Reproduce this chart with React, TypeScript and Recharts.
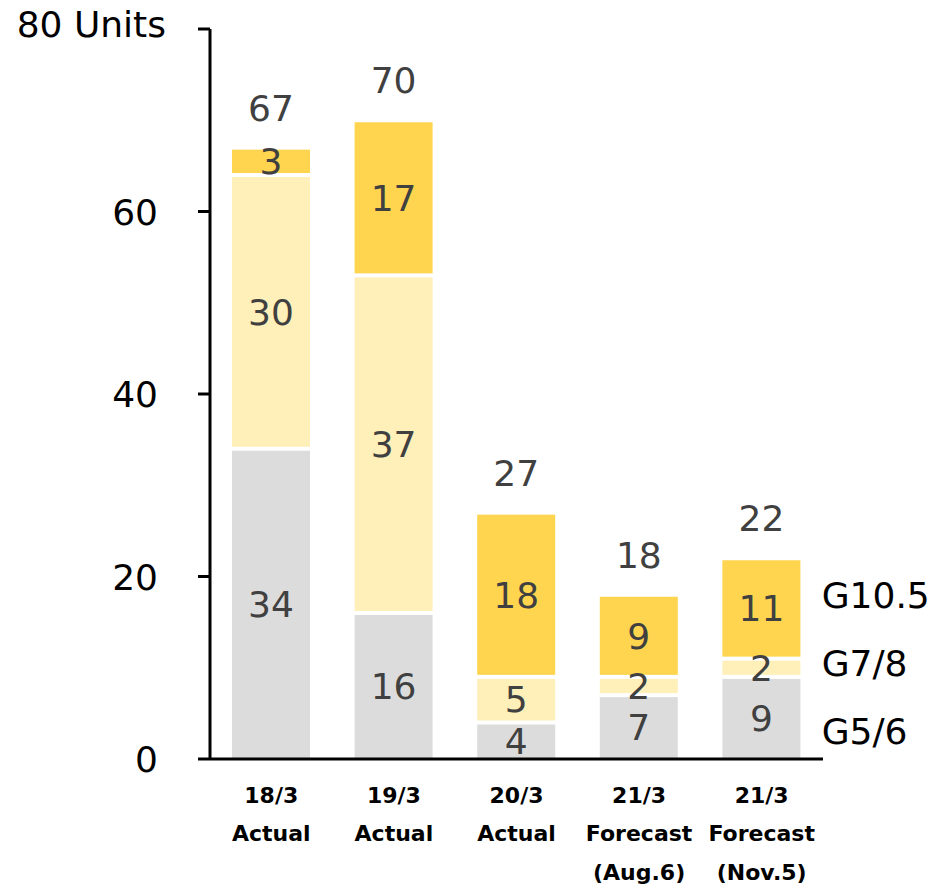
import React from 'react';
import { BarChart, Bar, XAxis, YAxis, LabelList, ReferenceDot } from 'recharts';

const categories = ['18/3 Actual', '19/3 Actual', '20/3 Actual', '21/3 Forecast (Aug.6)', '21/3 Forecast (Nov.5)'];
const categoryLines = [
  ['18/3', 'Actual'],
  ['19/3', 'Actual'],
  ['20/3', 'Actual'],
  ['21/3', 'Forecast', '(Aug.6)'],
  ['21/3', 'Forecast', '(Nov.5)'],
];
const g56 = [34, 16, 4, 7, 9];
const g78 = [30, 37, 5, 2, 2];
const g105 = [3, 17, 18, 9, 11];
const totals = [67, 70, 27, 18, 22];
const yTicks = [0, 20, 40, 60, 80];
const seriesNames = ['G5/6', 'G7/8', 'G10.5'];
const seriesLabelLevels = [3, 10.5, 18];

const data = categories.map((c, i) => ({ cat: c, g56: g56[i], g78: g78[i], g105: g105[i], total: totals[i] }));

const COLORS = { g56: '#DCDCDC', g78: '#FFEFB9', g105: '#FFD54F' };
const LABEL = '#404040';
const LINE_OFFSETS = [44, 82, 121];

const makeShape = (isBottom: boolean) => (props: any) => {
  const { x, y, width, height, fill } = props;
  if (width == null || height == null) return null;
  const top = y + 2;
  const bottom = isBottom ? y + height : y + height - 2;
  const h = Math.max(0, bottom - top);
  return <rect x={x} y={top} width={width} height={h} fill={fill} />;
};

const renderTotal = (props: any) => {
  const vb = props.viewBox || props;
  const x = vb.x ?? props.x;
  const y = vb.y ?? props.y;
  const w = vb.width ?? props.width;
  return (
    <text x={x + w / 2} y={y - 27} textAnchor="middle" fill={LABEL} fontSize={36}>
      {props.value}
    </text>
  );
};

const XTick = (props: any) => {
  const { x, y, payload } = props;
  const idx = categories.indexOf(payload.value);
  const lines = categoryLines[idx] || [String(payload.value)];
  return (
    <g>
      {lines.map((l, i) => (
        <text key={i} x={x} y={y + LINE_OFFSETS[i]} textAnchor="middle" fontWeight="bold" fontSize={22} fill="#000">
          {l}
        </text>
      ))}
    </g>
  );
};

const YTick = (props: any) => {
  const { x, y, payload } = props;
  if (payload.value === 80) {
    return (
      <text x={x + 8} y={y + 8} textAnchor="end" fontSize={36} fill="#000">
        80 Units
      </text>
    );
  }
  return (
    <text x={x} y={y + 13} textAnchor="end" fontSize={36} fill="#000">
      {payload.value}
    </text>
  );
};

export default function App() {
  return (
    <div
      style={{
        position: 'absolute',
        left: 0,
        top: 0,
        width: 935,
        height: 889,
        background: '#fff',
        fontFamily: '"DejaVu Sans", Verdana, sans-serif',
      }}
    >
      <BarChart width={935} height={889} data={data} margin={{ top: 29, right: 112, bottom: 0, left: 0 }}>
        <YAxis
          width={210}
          domain={[0, 80]}
          ticks={yTicks}
          interval={0}
          tickSize={12}
          tickMargin={40}
          axisLine={{ stroke: '#000', strokeWidth: 3 }}
          tickLine={{ stroke: '#000', strokeWidth: 3 }}
          tick={<YTick />}
        />
        <Bar dataKey="g56" stackId="a" fill={COLORS.g56} barSize={78} isAnimationActive={false} shape={makeShape(true)}>
          <LabelList dataKey="g56" position="center" fill={LABEL} fontSize={36} />
        </Bar>
        <Bar dataKey="g78" stackId="a" fill={COLORS.g78} barSize={78} isAnimationActive={false} shape={makeShape(false)}>
          <LabelList dataKey="g78" position="center" fill={LABEL} fontSize={36} />
        </Bar>
        <Bar dataKey="g105" stackId="a" fill={COLORS.g105} barSize={78} isAnimationActive={false} shape={makeShape(false)}>
          <LabelList dataKey="g105" position="center" fill={LABEL} fontSize={36} />
          <LabelList dataKey="total" content={renderTotal} />
        </Bar>
        <XAxis
          dataKey="cat"
          height={130}
          interval={0}
          tickSize={0}
          tickMargin={0}
          tickLine={false}
          axisLine={{ stroke: '#000', strokeWidth: 3 }}
          tick={<XTick />}
        />
        {seriesNames.map((n, i) => (
          <ReferenceDot
            key={n}
            x={categories[4]}
            y={seriesLabelLevels[i]}
            r={0}
            fill="none"
            stroke="none"
            label={{ value: n, position: 'right', offset: 60, fill: '#000', fontSize: 36 }}
          />
        ))}
      </BarChart>
    </div>
  );
}
